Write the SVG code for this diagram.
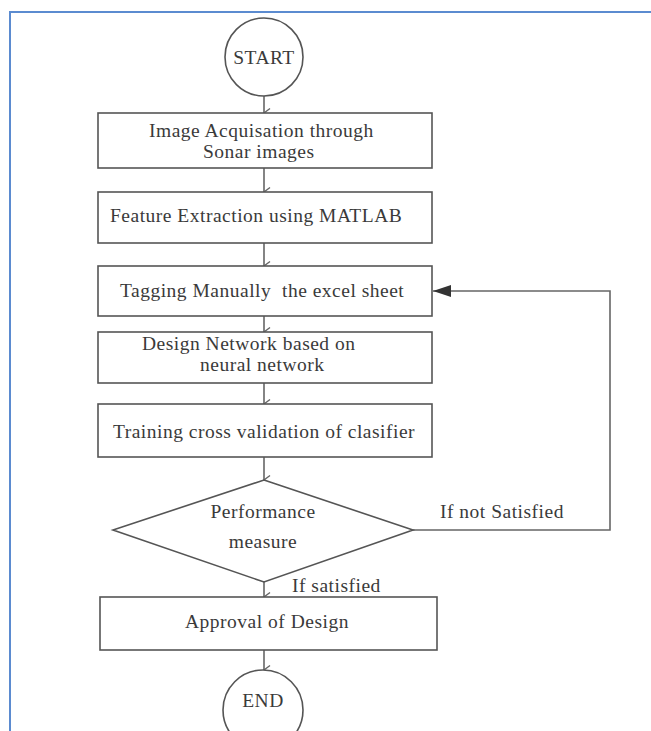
<svg xmlns="http://www.w3.org/2000/svg" width="651" height="731" viewBox="0 0 651 731">
<defs>
<style>
.n{fill:#fff;stroke:#555;stroke-width:1.6}
.t{font-family:"Liberation Serif","Times New Roman",serif;font-size:19.5px;letter-spacing:0.5px;fill:#3a3a3a}
.c{fill:none;stroke:#666;stroke-width:1.6}
</style>
<marker id="v" markerWidth="12" markerHeight="12" refX="6" refY="10" orient="auto" markerUnits="userSpaceOnUse" viewBox="0 0 12 12">
<polyline points="1.5,4 6,10 10.5,4" fill="none" stroke="#666" stroke-width="1.4"/>
</marker>
<marker id="tri" markerWidth="20" markerHeight="14" refX="18" refY="7" orient="auto" markerUnits="userSpaceOnUse" viewBox="0 0 20 14">
<polygon points="0,1 18,7 0,13" fill="#333"/>
</marker>
</defs>
<rect width="651" height="731" fill="#fff"/>
<rect x="10" y="12" width="700" height="800" fill="none" stroke="#5b8bd0" stroke-width="2"/>
<g id="connectors">
<line class="c" x1="264" y1="96" x2="264" y2="113" marker-end="url(#v)"/>
<line class="c" x1="264" y1="168" x2="264" y2="192" marker-end="url(#v)"/>
<line class="c" x1="264" y1="243" x2="264" y2="266" marker-end="url(#v)"/>
<line class="c" x1="264" y1="316" x2="264" y2="332" marker-end="url(#v)"/>
<line class="c" x1="264" y1="383" x2="264" y2="404" marker-end="url(#v)"/>
<line class="c" x1="264" y1="457" x2="264" y2="480" marker-end="url(#v)"/>
<line class="c" x1="264" y1="582" x2="264" y2="597" marker-end="url(#v)"/>
<line class="c" x1="264" y1="650" x2="264" y2="670" marker-end="url(#v)"/>
<polyline class="c" points="413,530 610,530 610,291 433,291" marker-end="url(#tri)"/>
<text class="t" x="440" y="518">If not Satisfied</text>
<text class="t" x="292" y="592">If satisfied</text>
</g>
<g id="start">
<circle class="n" cx="264" cy="57" r="39"/>
<text class="t" x="264" y="64" text-anchor="middle">START</text>
</g>
<g id="acq">
<rect class="n" x="98" y="113" width="334" height="55"/>
<text class="t" x="149" y="137">Image Acquisation through</text>
<text class="t" x="203" y="158">Sonar images</text>
</g>
<g id="feat">
<rect class="n" x="98" y="192" width="334" height="51"/>
<text class="t" x="110" y="222">Feature Extraction using MATLAB</text>
</g>
<g id="tag">
<rect class="n" x="98" y="266" width="334" height="50"/>
<text class="t" x="120" y="297" xml:space="preserve">Tagging Manually  the excel sheet</text>
</g>
<g id="design">
<rect class="n" x="98" y="332" width="334" height="51"/>
<text class="t" x="142" y="350">Design Network based on</text>
<text class="t" x="200" y="371">neural network</text>
</g>
<g id="train">
<rect class="n" x="98" y="404" width="334" height="53"/>
<text class="t" x="113" y="438">Training cross validation of clasifier</text>
</g>
<g id="perf">
<polygon class="n" points="264,480 413,530 264,582 113,530"/>
<text class="t" x="263" y="518" text-anchor="middle">Performance</text>
<text class="t" x="263" y="548" text-anchor="middle">measure</text>
</g>
<g id="approve">
<rect class="n" x="100" y="597" width="337" height="53"/>
<text class="t" x="185" y="628">Approval of Design</text>
</g>
<g id="end">
<circle class="n" cx="263" cy="710" r="40"/>
<text class="t" x="263" y="707" text-anchor="middle">END</text>
</g>
</svg>
